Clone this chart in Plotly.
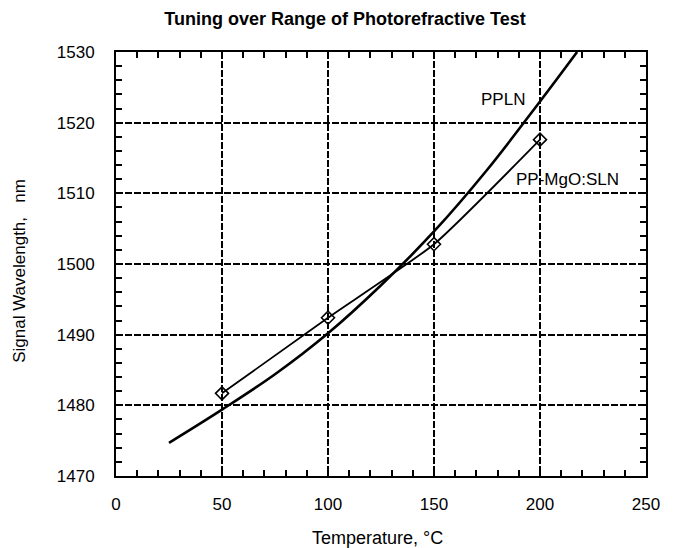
import plotly.graph_objects as go

# PPLN calculated tuning curve
ppln_temp = [25, 50, 75, 100, 125, 150, 175, 200, 217.5]
ppln_wl = [1474.7, 1479.4, 1484.4, 1490.2, 1497.0, 1504.6, 1513.3, 1523.0, 1530.0]

# PP-MgO:SLN measured points
sln_temp = [50, 100, 150, 200]
sln_wl = [1481.7, 1492.4, 1502.8, 1517.6]

x_ticks = [0, 50, 100, 150, 200, 250]
y_ticks = [1470, 1480, 1490, 1500, 1510, 1520, 1530]

FONT = "Liberation Sans, Arial, sans-serif"

# page body has an 8px margin; figure sized so it fits in the 677x548 window
W, H = 669, 540
L, T = 108, 44          # plot area left/top inside figure
R, B = 31, 72           # right/bottom margins
PW, PH = W - L - R, H - T - B

fig = go.Figure()
fig.add_trace(go.Scatter(
    x=ppln_temp, y=ppln_wl, mode="lines",
    line=dict(color="black", width=2.6, shape="spline", smoothing=1.0),
    name="PPLN", showlegend=False))
fig.add_trace(go.Scatter(
    x=sln_temp, y=sln_wl, mode="lines+markers",
    line=dict(color="black", width=1.8, shape="spline", smoothing=0.5),
    marker=dict(symbol="diamond-open", size=10, color="black", line=dict(width=1.6)),
    name="PP-MgO:SLN", showlegend=False))

fig.add_annotation(x=182.4, y=1523.3, text="PPLN", showarrow=False,
                   font=dict(family=FONT, size=17, color="black"))
fig.add_annotation(x=187.5, y=1512.0, xanchor="left", text="PP-MgO:SLN", showarrow=False,
                   font=dict(family=FONT, size=17, color="black"))

# axis titles
fig.add_annotation(xref="paper", yref="paper", x=(377 - 8 - L) / PW, y=0,
                   yanchor="middle", yshift=-(537.5 - 8 - (T + PH)),
                   text="Temperature, °C", showarrow=False,
                   font=dict(family=FONT, size=18, color="black"))
fig.add_annotation(xref="paper", yref="paper", x=0, xanchor="center",
                   xshift=-(L - (18.8 - 8)),
                   y=1 - (271 - 8 - T) / PH, yanchor="middle", textangle=-90,
                   text="Signal Wavelength,   nm", showarrow=False,
                   font=dict(family=FONT, size=17, color="black"))

axis_common = dict(
    showline=True, linecolor="black", linewidth=2, mirror="ticks",
    ticks="inside", ticklen=6, tickwidth=1.5, tickcolor="black",
    showgrid=True, gridcolor="black", gridwidth=1.8, griddash="7px,2px",
    zeroline=False, automargin=False,
    tickfont=dict(family=FONT, size=17, color="black"),
)

fig.update_xaxes(
    range=[0, 250], tickvals=x_ticks, ticktext=[str(v) for v in x_ticks],
    minor=dict(dtick=10, tick0=0, ticks="inside", ticklen=6, tickwidth=1.5, tickcolor="black", showgrid=False),
    ticklabelstandoff=12,
    **axis_common)
fig.update_yaxes(
    range=[1470, 1530], tickvals=y_ticks, ticktext=[str(v) for v in y_ticks],
    minor=dict(dtick=2, tick0=1470, ticks="inside", ticklen=6, tickwidth=1.5, tickcolor="black", showgrid=False),
    ticklabelstandoff=16,
    **axis_common)

fig.update_layout(
    width=W, height=H,
    margin=dict(l=L, r=R, t=T, b=B, autoexpand=False),
    paper_bgcolor="white", plot_bgcolor="white",
    title=dict(text="<b>Tuning over Range of Photorefractive Test</b>",
               xref="container", x=(345 - 8) / W, xanchor="center",
               yref="container", y=1 - (19 - 8) / H, yanchor="middle",
               font=dict(family=FONT, size=18, color="black")),
)

fig.write_html("out.html")
